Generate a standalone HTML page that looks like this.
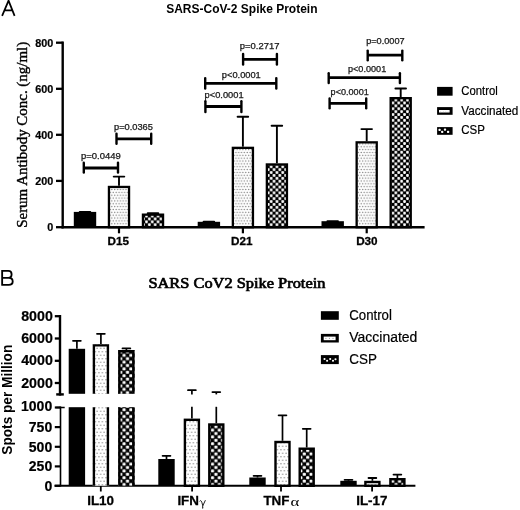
<!DOCTYPE html>
<html><head><meta charset="utf-8"><style>
html,body{margin:0;padding:0;background:#fff;}
body{width:520px;height:510px;overflow:hidden;}
svg{display:block;filter:grayscale(1);}
</style></head><body>
<svg width="520" height="510" viewBox="0 0 520 510">
<defs>
<pattern id="dotsA" width="2.85" height="5.7" patternUnits="userSpaceOnUse">
<rect width="2.85" height="5.7" fill="#fff"/>
<circle cx="0.7" cy="1.4" r="0.7" fill="#7c7c7c"/><circle cx="2.12" cy="4.25" r="0.7" fill="#7c7c7c"/>
</pattern>
<pattern id="chkA" width="5.8" height="5.8" patternUnits="userSpaceOnUse">
<rect width="5.8" height="5.8" fill="#000"/>
<rect x="0.1" y="0.1" width="2.7" height="2.7" rx="0.8" fill="#fff"/><rect x="3.0" y="3.0" width="2.7" height="2.7" rx="0.8" fill="#fff"/>
</pattern>
<pattern id="dotsB" width="3.5" height="7" patternUnits="userSpaceOnUse">
<rect width="3.5" height="7" fill="#fff"/>
<circle cx="0.9" cy="1.75" r="0.7" fill="#888"/><circle cx="2.65" cy="5.25" r="0.7" fill="#888"/>
</pattern>
<pattern id="chkB" width="6.8" height="6.8" patternUnits="userSpaceOnUse">
<rect width="6.8" height="6.8" fill="#000"/>
<rect x="0.15" y="0.15" width="3.1" height="3.1" rx="0.9" fill="#fff"/><rect x="3.55" y="3.55" width="3.1" height="3.1" rx="0.9" fill="#fff"/>
</pattern>
<pattern id="legV" width="4" height="20" patternUnits="userSpaceOnUse">
<rect width="4" height="20" fill="#000"/>
</pattern>
<pattern id="legC" width="4" height="20" patternUnits="userSpaceOnUse">
<rect width="4" height="20" fill="#000"/>
</pattern>
</defs>
<rect width="520" height="510" fill="#fff"/>
<path d="M2.1,15.9 L8.55,0.6 L14.6,15.9 M4.6,10.4 H12.4" fill="none" stroke="#000" stroke-width="1.75"/>
<text x="166.2" y="13" font-family='"Liberation Sans", sans-serif' font-size="12" font-weight="bold" text-anchor="start" fill="#000" textLength="151.3" lengthAdjust="spacingAndGlyphs">SARS-CoV-2 Spike Protein</text>
<text transform="translate(27.0,134.8) rotate(-90)" x="0" y="0" font-family='"Liberation Serif", serif' font-size="15.1" stroke="#000" stroke-width="0.4" text-anchor="middle" textLength="186" lengthAdjust="spacingAndGlyphs">Serum Antibody Conc. (ng/ml)</text>
<line x1="62.70" y1="41.50" x2="62.70" y2="228.40" stroke="#000" stroke-width="2.4"/>
<line x1="56.00" y1="42.70" x2="62.70" y2="42.70" stroke="#000" stroke-width="2.3"/>
<text x="53.2" y="46.6" font-family='"Liberation Sans", sans-serif' font-size="10.8" font-weight="bold" text-anchor="end" fill="#000" stroke="#000" stroke-width="0.2">800</text>
<line x1="56.00" y1="88.80" x2="62.70" y2="88.80" stroke="#000" stroke-width="2.3"/>
<text x="53.2" y="92.7" font-family='"Liberation Sans", sans-serif' font-size="10.8" font-weight="bold" text-anchor="end" fill="#000" stroke="#000" stroke-width="0.2">600</text>
<line x1="56.00" y1="134.80" x2="62.70" y2="134.80" stroke="#000" stroke-width="2.3"/>
<text x="53.2" y="138.70000000000002" font-family='"Liberation Sans", sans-serif' font-size="10.8" font-weight="bold" text-anchor="end" fill="#000" stroke="#000" stroke-width="0.2">400</text>
<line x1="56.00" y1="180.90" x2="62.70" y2="180.90" stroke="#000" stroke-width="2.3"/>
<text x="53.2" y="184.8" font-family='"Liberation Sans", sans-serif' font-size="10.8" font-weight="bold" text-anchor="end" fill="#000" stroke="#000" stroke-width="0.2">200</text>
<line x1="56.00" y1="227.20" x2="62.70" y2="227.20" stroke="#000" stroke-width="2.3"/>
<text x="53.2" y="231.1" font-family='"Liberation Sans", sans-serif' font-size="10.8" font-weight="bold" text-anchor="end" fill="#000" stroke="#000" stroke-width="0.2">0</text>
<line x1="61.50" y1="227.20" x2="424.60" y2="227.20" stroke="#000" stroke-width="2.5"/>
<line x1="119.00" y1="227.00" x2="119.00" y2="233.30" stroke="#000" stroke-width="2.2"/>
<line x1="85.00" y1="211.90" x2="85.00" y2="211.90" stroke="#000" stroke-width="1.9"/>
<line x1="79.70" y1="211.90" x2="90.30" y2="211.90" stroke="#000" stroke-width="1.9" stroke-linecap="round"/>
<rect x="73.80" y="211.90" width="22.40" height="15.30" fill="#000"/>
<line x1="119.00" y1="176.60" x2="119.00" y2="185.80" stroke="#000" stroke-width="1.9"/>
<line x1="113.70" y1="176.60" x2="124.30" y2="176.60" stroke="#000" stroke-width="1.9" stroke-linecap="round"/>
<rect x="108.95" y="186.95" width="20.10" height="40.25" fill="url(#dotsA)" stroke="#000" stroke-width="2.3"/>
<line x1="153.00" y1="213.30" x2="153.00" y2="213.50" stroke="#000" stroke-width="1.9"/>
<line x1="147.70" y1="213.30" x2="158.30" y2="213.30" stroke="#000" stroke-width="1.9" stroke-linecap="round"/>
<rect x="142.95" y="214.65" width="20.10" height="12.55" fill="url(#chkA)" stroke="#000" stroke-width="2.3"/>
<line x1="242.90" y1="227.00" x2="242.90" y2="233.30" stroke="#000" stroke-width="2.2"/>
<line x1="208.90" y1="221.80" x2="208.90" y2="221.80" stroke="#000" stroke-width="1.9"/>
<line x1="203.60" y1="221.80" x2="214.20" y2="221.80" stroke="#000" stroke-width="1.9" stroke-linecap="round"/>
<rect x="197.70" y="221.80" width="22.40" height="5.40" fill="#000"/>
<line x1="242.90" y1="116.70" x2="242.90" y2="146.70" stroke="#000" stroke-width="1.9"/>
<line x1="237.60" y1="116.70" x2="248.20" y2="116.70" stroke="#000" stroke-width="1.9" stroke-linecap="round"/>
<rect x="232.85" y="147.85" width="20.10" height="79.35" fill="url(#dotsA)" stroke="#000" stroke-width="2.3"/>
<line x1="276.90" y1="125.70" x2="276.90" y2="163.30" stroke="#000" stroke-width="1.9"/>
<line x1="271.60" y1="125.70" x2="282.20" y2="125.70" stroke="#000" stroke-width="1.9" stroke-linecap="round"/>
<rect x="266.85" y="164.45" width="20.10" height="62.75" fill="url(#chkA)" stroke="#000" stroke-width="2.3"/>
<line x1="366.70" y1="227.00" x2="366.70" y2="233.30" stroke="#000" stroke-width="2.2"/>
<line x1="332.70" y1="221.20" x2="332.70" y2="221.20" stroke="#000" stroke-width="1.9"/>
<line x1="327.40" y1="221.20" x2="338.00" y2="221.20" stroke="#000" stroke-width="1.9" stroke-linecap="round"/>
<rect x="321.50" y="221.20" width="22.40" height="6.00" fill="#000"/>
<line x1="366.70" y1="129.10" x2="366.70" y2="141.20" stroke="#000" stroke-width="1.9"/>
<line x1="361.40" y1="129.10" x2="372.00" y2="129.10" stroke="#000" stroke-width="1.9" stroke-linecap="round"/>
<rect x="356.65" y="142.35" width="20.10" height="84.85" fill="url(#dotsA)" stroke="#000" stroke-width="2.3"/>
<line x1="400.70" y1="88.50" x2="400.70" y2="97.00" stroke="#000" stroke-width="1.9"/>
<line x1="395.40" y1="88.50" x2="406.00" y2="88.50" stroke="#000" stroke-width="1.9" stroke-linecap="round"/>
<rect x="390.65" y="98.15" width="20.10" height="129.05" fill="url(#chkA)" stroke="#000" stroke-width="2.3"/>
<text x="118.2" y="245" font-family='"Liberation Sans", sans-serif' font-size="11.7" font-weight="bold" text-anchor="middle" fill="#000" stroke="#000" stroke-width="0.3">D15</text>
<text x="241.8" y="245" font-family='"Liberation Sans", sans-serif' font-size="11.7" font-weight="bold" text-anchor="middle" fill="#000" stroke="#000" stroke-width="0.3">D21</text>
<text x="366.9" y="245" font-family='"Liberation Sans", sans-serif' font-size="11.7" font-weight="bold" text-anchor="middle" fill="#000" stroke="#000" stroke-width="0.3">D30</text>
<line x1="83.80" y1="168.00" x2="118.00" y2="168.00" stroke="#000" stroke-width="2.8"/>
<line x1="83.80" y1="162.70" x2="83.80" y2="172.60" stroke="#000" stroke-width="2.4" stroke-linecap="round"/>
<line x1="118.00" y1="162.70" x2="118.00" y2="172.60" stroke="#000" stroke-width="2.4" stroke-linecap="round"/>
<text x="81" y="158.5" font-family='"Liberation Sans", sans-serif' font-size="8.2" font-weight="normal" text-anchor="start" fill="#1a1a1a" textLength="39.8" lengthAdjust="spacingAndGlyphs" stroke="#1a1a1a" stroke-width="0.25">p=0.0449</text>
<line x1="116.50" y1="138.90" x2="151.20" y2="138.90" stroke="#000" stroke-width="2.8"/>
<line x1="116.50" y1="133.80" x2="116.50" y2="143.70" stroke="#000" stroke-width="2.4" stroke-linecap="round"/>
<line x1="151.20" y1="133.80" x2="151.20" y2="143.70" stroke="#000" stroke-width="2.4" stroke-linecap="round"/>
<text x="114" y="130" font-family='"Liberation Sans", sans-serif' font-size="8.2" font-weight="normal" text-anchor="start" fill="#1a1a1a" textLength="38.9" lengthAdjust="spacingAndGlyphs" stroke="#1a1a1a" stroke-width="0.25">p=0.0365</text>
<line x1="205.40" y1="106.50" x2="241.40" y2="106.50" stroke="#000" stroke-width="2.8"/>
<line x1="205.40" y1="101.20" x2="205.40" y2="112.10" stroke="#000" stroke-width="2.4" stroke-linecap="round"/>
<line x1="241.40" y1="101.20" x2="241.40" y2="112.10" stroke="#000" stroke-width="2.4" stroke-linecap="round"/>
<text x="204.6" y="97.7" font-family='"Liberation Sans", sans-serif' font-size="8.2" font-weight="normal" text-anchor="start" fill="#1a1a1a" textLength="39.0" lengthAdjust="spacingAndGlyphs" stroke="#1a1a1a" stroke-width="0.25">p&lt;0.0001</text>
<line x1="205.20" y1="83.30" x2="276.30" y2="83.30" stroke="#000" stroke-width="2.8"/>
<line x1="205.20" y1="78.10" x2="205.20" y2="88.50" stroke="#000" stroke-width="2.4" stroke-linecap="round"/>
<line x1="276.30" y1="78.10" x2="276.30" y2="88.50" stroke="#000" stroke-width="2.4" stroke-linecap="round"/>
<text x="221.8" y="78.3" font-family='"Liberation Sans", sans-serif' font-size="8.2" font-weight="normal" text-anchor="start" fill="#1a1a1a" textLength="39" lengthAdjust="spacingAndGlyphs" stroke="#1a1a1a" stroke-width="0.25">p&lt;0.0001</text>
<line x1="243.10" y1="59.30" x2="276.90" y2="59.30" stroke="#000" stroke-width="2.8"/>
<line x1="243.10" y1="54.00" x2="243.10" y2="64.50" stroke="#000" stroke-width="2.4" stroke-linecap="round"/>
<line x1="276.90" y1="54.00" x2="276.90" y2="64.50" stroke="#000" stroke-width="2.4" stroke-linecap="round"/>
<text x="239.8" y="48.9" font-family='"Liberation Sans", sans-serif' font-size="8.2" font-weight="normal" text-anchor="start" fill="#1a1a1a" textLength="39.6" lengthAdjust="spacingAndGlyphs" stroke="#1a1a1a" stroke-width="0.25">p=0.2717</text>
<line x1="329.60" y1="103.30" x2="366.20" y2="103.30" stroke="#000" stroke-width="2.8"/>
<line x1="329.60" y1="98.50" x2="329.60" y2="108.30" stroke="#000" stroke-width="2.4" stroke-linecap="round"/>
<line x1="366.20" y1="98.50" x2="366.20" y2="108.30" stroke="#000" stroke-width="2.4" stroke-linecap="round"/>
<text x="330.6" y="94.8" font-family='"Liberation Sans", sans-serif' font-size="8.2" font-weight="normal" text-anchor="start" fill="#1a1a1a" textLength="38.2" lengthAdjust="spacingAndGlyphs" stroke="#1a1a1a" stroke-width="0.25">p&lt;0.0001</text>
<line x1="328.70" y1="77.70" x2="399.90" y2="77.70" stroke="#000" stroke-width="2.8"/>
<line x1="328.70" y1="73.30" x2="328.70" y2="83.00" stroke="#000" stroke-width="2.4" stroke-linecap="round"/>
<line x1="399.90" y1="73.30" x2="399.90" y2="83.00" stroke="#000" stroke-width="2.4" stroke-linecap="round"/>
<text x="348.0" y="72.4" font-family='"Liberation Sans", sans-serif' font-size="8.2" font-weight="normal" text-anchor="start" fill="#1a1a1a" textLength="38.2" lengthAdjust="spacingAndGlyphs" stroke="#1a1a1a" stroke-width="0.25">p&lt;0.0001</text>
<line x1="367.70" y1="55.20" x2="402.30" y2="55.20" stroke="#000" stroke-width="2.8"/>
<line x1="367.70" y1="50.60" x2="367.70" y2="60.30" stroke="#000" stroke-width="2.4" stroke-linecap="round"/>
<line x1="402.30" y1="50.60" x2="402.30" y2="60.30" stroke="#000" stroke-width="2.4" stroke-linecap="round"/>
<text x="366.2" y="44" font-family='"Liberation Sans", sans-serif' font-size="8.2" font-weight="normal" text-anchor="start" fill="#1a1a1a" textLength="38.4" lengthAdjust="spacingAndGlyphs" stroke="#1a1a1a" stroke-width="0.25">p=0.0007</text>
<rect x="437.10" y="86.90" width="15.50" height="8.80" fill="#000"/>
<rect x="437.10" y="107.10" width="15.50" height="7.70" fill="#000"/>
<rect x="439.00" y="110.00" width="10.60" height="2.50" fill="#fff"/>
<circle cx="440.50" cy="111.90" r="0.45" fill="#999"/>
<circle cx="443.50" cy="111.90" r="0.45" fill="#999"/>
<circle cx="445.90" cy="111.90" r="0.45" fill="#999"/>
<circle cx="448.10" cy="111.90" r="0.45" fill="#999"/>
<rect x="437.10" y="127.10" width="15.50" height="7.70" fill="#000"/>
<rect x="438.45" y="128.65" width="2.3" height="2.3" rx="0.8" fill="#fff"/>
<rect x="441.05" y="130.65" width="2.3" height="2.3" rx="0.8" fill="#fff"/>
<rect x="443.85" y="128.55" width="2.3" height="2.3" rx="0.8" fill="#fff"/>
<rect x="446.95" y="130.65" width="2.3" height="2.3" rx="0.8" fill="#fff"/>
<text x="461.3" y="95.4" font-family='"Liberation Sans", sans-serif' font-size="12.3" font-weight="normal" text-anchor="start" fill="#000" textLength="36.4" lengthAdjust="spacingAndGlyphs" stroke="#000" stroke-width="0.2">Control</text>
<text x="461.3" y="114.7" font-family='"Liberation Sans", sans-serif' font-size="12.3" font-weight="normal" text-anchor="start" fill="#000" textLength="57.0" lengthAdjust="spacingAndGlyphs" stroke="#000" stroke-width="0.2">Vaccinated</text>
<text x="461.3" y="134.1" font-family='"Liberation Sans", sans-serif' font-size="12.3" font-weight="normal" text-anchor="start" fill="#000" textLength="23.7" lengthAdjust="spacingAndGlyphs" stroke="#000" stroke-width="0.2">CSP</text>
<path d="M2.15,270.1 V285.3 M1.3,270.9 H8.3 C10.6,270.9 11.6,272.4 11.6,274.3 C11.6,276.3 10.4,277.9 8.3,277.9 H2.15 M8.3,277.9 H8.8 C11.4,277.9 12.7,279.4 12.7,281.4 C12.7,283.5 11.2,284.8 8.7,284.8 H1.3" fill="none" stroke="#000" stroke-width="1.85"/>
<text x="148.4" y="287.7" font-family='"Liberation Serif", serif' font-size="14.2" font-weight="normal" text-anchor="start" fill="#000" textLength="177" lengthAdjust="spacingAndGlyphs" stroke="#000" stroke-width="0.65">SARS CoV2 Spike Protein</text>
<text transform="translate(11.9,399.7) rotate(-90)" x="0" y="0" font-family='"Liberation Sans", sans-serif' font-size="14.3" font-weight="bold" text-anchor="middle" textLength="110" lengthAdjust="spacingAndGlyphs">Spots per Million</text>
<line x1="60.00" y1="315.00" x2="60.00" y2="395.60" stroke="#000" stroke-width="2.4"/>
<line x1="56.20" y1="394.40" x2="63.80" y2="394.40" stroke="#000" stroke-width="2.4"/>
<line x1="54.80" y1="316.20" x2="60.00" y2="316.20" stroke="#000" stroke-width="2.3"/>
<text x="52.8" y="320.7" font-family='"Liberation Sans", sans-serif' font-size="14" font-weight="bold" text-anchor="end" fill="#000" textLength="31.6" lengthAdjust="spacingAndGlyphs" stroke="#000" stroke-width="0.2">8000</text>
<line x1="54.80" y1="338.50" x2="60.00" y2="338.50" stroke="#000" stroke-width="2.3"/>
<text x="52.8" y="343.0" font-family='"Liberation Sans", sans-serif' font-size="14" font-weight="bold" text-anchor="end" fill="#000" textLength="31.6" lengthAdjust="spacingAndGlyphs" stroke="#000" stroke-width="0.2">6000</text>
<line x1="54.80" y1="360.80" x2="60.00" y2="360.80" stroke="#000" stroke-width="2.3"/>
<text x="52.8" y="365.3" font-family='"Liberation Sans", sans-serif' font-size="14" font-weight="bold" text-anchor="end" fill="#000" textLength="31.6" lengthAdjust="spacingAndGlyphs" stroke="#000" stroke-width="0.2">4000</text>
<line x1="54.80" y1="383.00" x2="60.00" y2="383.00" stroke="#000" stroke-width="2.3"/>
<text x="52.8" y="387.5" font-family='"Liberation Sans", sans-serif' font-size="14" font-weight="bold" text-anchor="end" fill="#000" textLength="31.6" lengthAdjust="spacingAndGlyphs" stroke="#000" stroke-width="0.2">2000</text>
<line x1="60.50" y1="406.50" x2="60.50" y2="486.40" stroke="#000" stroke-width="1.6"/>
<line x1="56.20" y1="407.50" x2="64.70" y2="407.50" stroke="#000" stroke-width="1.5"/>
<line x1="54.80" y1="407.50" x2="60.50" y2="407.50" stroke="#000" stroke-width="2.2"/>
<text x="52.2" y="411.4" font-family='"Liberation Sans", sans-serif' font-size="14" font-weight="bold" text-anchor="end" fill="#000" stroke="#000" stroke-width="0.2">1000</text>
<line x1="54.80" y1="427.10" x2="60.50" y2="427.10" stroke="#000" stroke-width="2.2"/>
<text x="52.2" y="431.90000000000003" font-family='"Liberation Sans", sans-serif' font-size="14" font-weight="bold" text-anchor="end" fill="#000" stroke="#000" stroke-width="0.2">750</text>
<line x1="54.80" y1="446.80" x2="60.50" y2="446.80" stroke="#000" stroke-width="2.2"/>
<text x="52.2" y="451.6" font-family='"Liberation Sans", sans-serif' font-size="14" font-weight="bold" text-anchor="end" fill="#000" stroke="#000" stroke-width="0.2">500</text>
<line x1="54.80" y1="466.40" x2="60.50" y2="466.40" stroke="#000" stroke-width="2.2"/>
<text x="52.2" y="471.2" font-family='"Liberation Sans", sans-serif' font-size="14" font-weight="bold" text-anchor="end" fill="#000" stroke="#000" stroke-width="0.2">250</text>
<line x1="54.80" y1="485.80" x2="60.50" y2="485.80" stroke="#000" stroke-width="2.2"/>
<text x="52.2" y="490.6" font-family='"Liberation Sans", sans-serif' font-size="14" font-weight="bold" text-anchor="end" fill="#000" stroke="#000" stroke-width="0.2">0</text>
<line x1="54.50" y1="485.80" x2="415.40" y2="485.80" stroke="#000" stroke-width="2"/>
<line x1="100.80" y1="485.00" x2="100.80" y2="491.50" stroke="#000" stroke-width="1.8"/>
<line x1="76.90" y1="340.80" x2="76.90" y2="348.80" stroke="#000" stroke-width="1.7"/>
<line x1="73.00" y1="340.80" x2="80.80" y2="340.80" stroke="#000" stroke-width="1.8" stroke-linecap="round"/>
<rect x="68.70" y="348.80" width="16.40" height="45.00" fill="#000"/>
<rect x="68.70" y="407.20" width="16.40" height="78.60" fill="#000"/>
<line x1="100.90" y1="333.80" x2="100.90" y2="344.20" stroke="#000" stroke-width="1.7"/>
<line x1="97.00" y1="333.80" x2="104.80" y2="333.80" stroke="#000" stroke-width="1.8" stroke-linecap="round"/>
<rect x="92.70" y="344.20" width="16.40" height="49.60" fill="url(#dotsB)"/>
<rect x="92.70" y="407.20" width="16.40" height="78.60" fill="url(#dotsB)"/>
<path d="M93.90,393.8 V345.40 H107.90 V393.8 M93.90,407.2 V485.8 M107.90,407.2 V485.8" fill="none" stroke="#000" stroke-width="2.4"/>
<line x1="126.40" y1="348.40" x2="126.40" y2="350.00" stroke="#000" stroke-width="1.7"/>
<line x1="122.50" y1="348.40" x2="130.30" y2="348.40" stroke="#000" stroke-width="1.8" stroke-linecap="round"/>
<rect x="118.20" y="350.00" width="16.40" height="43.80" fill="url(#chkB)"/>
<rect x="118.20" y="407.20" width="16.40" height="78.60" fill="url(#chkB)"/>
<path d="M119.40,393.8 V351.20 H133.40 V393.8 M119.40,407.2 V485.8 M133.40,407.2 V485.8" fill="none" stroke="#000" stroke-width="2.4"/>
<line x1="192.10" y1="485.00" x2="192.10" y2="491.50" stroke="#000" stroke-width="1.8"/>
<line x1="166.50" y1="455.80" x2="166.50" y2="459.00" stroke="#000" stroke-width="1.7"/>
<line x1="162.60" y1="455.80" x2="170.40" y2="455.80" stroke="#000" stroke-width="1.8" stroke-linecap="round"/>
<rect x="158.30" y="459.00" width="16.40" height="26.80" fill="#000"/>
<line x1="191.90" y1="390.20" x2="191.90" y2="394.40" stroke="#000" stroke-width="1.7"/>
<line x1="191.90" y1="406.80" x2="191.90" y2="418.60" stroke="#000" stroke-width="1.7"/>
<line x1="188.00" y1="390.20" x2="195.80" y2="390.20" stroke="#000" stroke-width="1.8" stroke-linecap="round"/>
<rect x="184.90" y="419.80" width="14.00" height="66.00" fill="url(#dotsB)" stroke="#000" stroke-width="2.4"/>
<line x1="216.30" y1="392.10" x2="216.30" y2="394.40" stroke="#000" stroke-width="1.7"/>
<line x1="216.30" y1="406.80" x2="216.30" y2="423.30" stroke="#000" stroke-width="1.7"/>
<line x1="212.40" y1="392.10" x2="220.20" y2="392.10" stroke="#000" stroke-width="1.8" stroke-linecap="round"/>
<rect x="209.30" y="424.50" width="14.00" height="61.30" fill="url(#chkB)" stroke="#000" stroke-width="2.4"/>
<line x1="281.00" y1="485.00" x2="281.00" y2="491.50" stroke="#000" stroke-width="1.8"/>
<line x1="257.50" y1="475.80" x2="257.50" y2="477.50" stroke="#000" stroke-width="1.7"/>
<line x1="253.60" y1="475.80" x2="261.40" y2="475.80" stroke="#000" stroke-width="1.8" stroke-linecap="round"/>
<rect x="249.30" y="477.50" width="16.40" height="8.30" fill="#000"/>
<line x1="282.50" y1="415.30" x2="282.50" y2="440.80" stroke="#000" stroke-width="1.7"/>
<line x1="278.60" y1="415.30" x2="286.40" y2="415.30" stroke="#000" stroke-width="1.8" stroke-linecap="round"/>
<rect x="275.50" y="442.00" width="14.00" height="43.80" fill="url(#dotsB)" stroke="#000" stroke-width="2.4"/>
<line x1="306.70" y1="428.80" x2="306.70" y2="447.50" stroke="#000" stroke-width="1.7"/>
<line x1="302.80" y1="428.80" x2="310.60" y2="428.80" stroke="#000" stroke-width="1.8" stroke-linecap="round"/>
<rect x="299.70" y="448.70" width="14.00" height="37.10" fill="url(#chkB)" stroke="#000" stroke-width="2.4"/>
<line x1="372.10" y1="485.00" x2="372.10" y2="491.50" stroke="#000" stroke-width="1.8"/>
<line x1="348.50" y1="479.80" x2="348.50" y2="480.80" stroke="#000" stroke-width="1.7"/>
<line x1="344.60" y1="479.80" x2="352.40" y2="479.80" stroke="#000" stroke-width="1.8" stroke-linecap="round"/>
<rect x="340.30" y="480.80" width="16.40" height="5.00" fill="#000"/>
<line x1="372.40" y1="478.00" x2="372.40" y2="480.80" stroke="#000" stroke-width="1.7"/>
<line x1="368.50" y1="478.00" x2="376.30" y2="478.00" stroke="#000" stroke-width="1.8" stroke-linecap="round"/>
<rect x="365.40" y="482.00" width="14.00" height="3.80" fill="url(#dotsB)" stroke="#000" stroke-width="2.4"/>
<line x1="397.40" y1="474.60" x2="397.40" y2="478.00" stroke="#000" stroke-width="1.7"/>
<line x1="393.50" y1="474.60" x2="401.30" y2="474.60" stroke="#000" stroke-width="1.8" stroke-linecap="round"/>
<rect x="390.40" y="479.20" width="14.00" height="6.60" fill="url(#chkB)" stroke="#000" stroke-width="2.4"/>
<text x="100.6" y="505" font-family='"Liberation Sans", sans-serif' font-size="13.4" font-weight="bold" text-anchor="middle" fill="#000" stroke="#000" stroke-width="0.3">IL10</text>
<text x="177.4" y="505" font-family='"Liberation Sans", sans-serif' font-size="13.4" font-weight="bold" text-anchor="start" fill="#000" stroke="#000" stroke-width="0.3">IFN</text>
<path d="M199.5,501.4 C200.3,500.1 201.3,500.5 201.8,502.2 L202.8,505.8 M205.4,500.2 L202.8,505.8 L202.5,507.6 C202.3,508.7 203.2,508.7 203.0,507.4" fill="none" stroke="#111" stroke-width="0.95"/>
<text x="263.4" y="505" font-family='"Liberation Sans", sans-serif' font-size="13.4" font-weight="bold" text-anchor="start" fill="#000" stroke="#000" stroke-width="0.3">TNF</text>
<text x="290.6" y="506.3" font-family='"Liberation Serif", serif' font-size="12.5" fill="#000" textLength="8.8" lengthAdjust="spacingAndGlyphs">&#945;</text>
<text x="371.8" y="505" font-family='"Liberation Sans", sans-serif' font-size="13.4" font-weight="bold" text-anchor="middle" fill="#000" stroke="#000" stroke-width="0.3">IL-17</text>
<rect x="320.90" y="311.20" width="17.90" height="8.60" fill="#000"/>
<rect x="320.90" y="333.90" width="17.90" height="8.60" fill="#000"/>
<rect x="323.70" y="336.60" width="11.90" height="3.60" fill="#fff"/>
<circle cx="325.90" cy="338.40" r="0.55" fill="#999"/>
<circle cx="329.40" cy="338.40" r="0.55" fill="#999"/>
<circle cx="333.00" cy="338.40" r="0.55" fill="#999"/>
<rect x="320.90" y="355.10" width="17.90" height="9.00" fill="#000"/>
<rect x="323.50" y="358.00" width="2.0" height="2.0" rx="0.8" fill="#fff"/>
<rect x="326.10" y="359.70" width="2.0" height="2.0" rx="0.8" fill="#fff"/>
<rect x="329.20" y="358.00" width="2.0" height="2.0" rx="0.8" fill="#fff"/>
<rect x="332.00" y="359.70" width="2.0" height="2.0" rx="0.8" fill="#fff"/>
<rect x="334.50" y="358.30" width="2.0" height="2.0" rx="0.8" fill="#fff"/>
<text x="349.3" y="320.0" font-family='"Liberation Sans", sans-serif' font-size="14.0" font-weight="normal" text-anchor="start" fill="#000" textLength="42.6" lengthAdjust="spacingAndGlyphs" stroke="#000" stroke-width="0.2">Control</text>
<text x="349.3" y="342.3" font-family='"Liberation Sans", sans-serif' font-size="14.0" font-weight="normal" text-anchor="start" fill="#000" textLength="68.0" lengthAdjust="spacingAndGlyphs" stroke="#000" stroke-width="0.2">Vaccinated</text>
<text x="349.3" y="364.2" font-family='"Liberation Sans", sans-serif' font-size="14.0" font-weight="normal" text-anchor="start" fill="#000" textLength="27.6" lengthAdjust="spacingAndGlyphs" stroke="#000" stroke-width="0.2">CSP</text>
</svg>
</body></html>
